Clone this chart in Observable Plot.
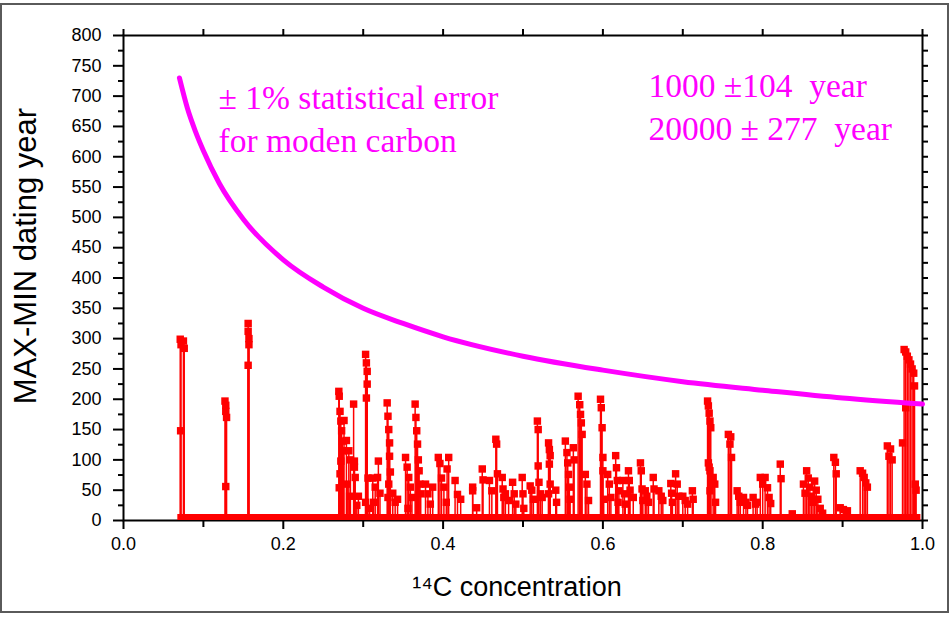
<!DOCTYPE html>
<html>
<head>
<meta charset="utf-8">
<script src="https://cdn.jsdelivr.net/npm/d3@7"></script>
<script src="https://cdn.jsdelivr.net/npm/@observablehq/plot@0.6"></script>
<style>
  body { margin: 0; background: #fff; }
  #wrap { position: relative; width: 951px; height: 620px; overflow: hidden; }
  #border { position: absolute; left: 0; top: 3px; width: 949px; height: 610px; box-sizing: border-box; border: 2px solid #5a5a5a; pointer-events: none; }
</style>
</head>
<body>
<div id="wrap"><div id="border"></div></div>
<script>
// ---- data ----
// 14C concentration of each measured sample (x) and its MAX-MIN dating year (y)
const conc = [
  0.071,0.072,0.0715,0.076,0.075,
  0.127,0.128,0.128,0.129,0.128,
  0.156,0.156,0.157,0.157,0.156,
  0.2695,0.270,0.271,0.272,0.273,0.274,0.275,0.272,0.271,0.270,
  0.276,0.279,0.282,0.284,0.280,0.283,
  0.288,0.289,0.289,0.290,0.294,0.292,
  0.303,0.304,0.305,0.305,0.304,0.306,0.303,0.308,
  0.312,0.315,0.313,0.319,0.318,0.321,
  0.330,0.331,0.332,0.333,0.333,0.334,0.332,0.331,
  0.337,0.340,0.343,
  0.353,0.355,0.357,0.359,0.361,0.356,
  0.365,0.366,0.367,0.368,0.369,0.370,0.371,0.372,
  0.378,0.381,0.384,0.387,
  0.394,0.396,0.398,0.401,0.404,0.407,0.405,
  0.415,0.418,0.422,
  0.437,0.437,0.442,
  0.449,0.450,
  0.458,0.461,
  0.466,0.467,0.468,
  0.474,0.475,0.476,
  0.478,0.482,
  0.487,0.489,0.491,
  0.499,0.500,0.501,
  0.509,0.511,0.513,
  0.518,0.519,0.519,0.520,
  0.522,0.524,
  0.532,0.533,0.534,0.533,0.534,0.532,
  0.541,0.542,
  0.553,0.555,0.556,0.557,0.558,0.559,
  0.563,0.564,
  0.569,0.571,0.572,0.573,0.574,
  0.578,0.580,0.582,
  0.597,0.598,0.599,0.600,0.600,0.601,
  0.606,0.608,0.610,
  0.616,0.617,0.618,0.620,0.619,
  0.625,0.627,0.628,
  0.632,0.633,0.634,
  0.638,
  0.647,0.648,0.649,0.650,
  0.653,0.655,0.657,
  0.663,0.664,
  0.670,0.673,0.675,
  0.685,0.686,0.687,
  0.691,0.693,0.695,
  0.700,0.703,0.706,
  0.712,0.713,
  0.731,0.732,0.733,0.734,0.735,0.732,0.733,0.734,0.735,0.734,
  0.738,0.740,0.741,
  0.757,0.760,0.759,0.761,
  0.768,0.770,0.772,
  0.776,0.779,0.781,
  0.788,0.791,0.793,
  0.797,0.800,0.803,0.806,0.808,0.810,
  0.822,0.823,
  0.837,
  0.851,0.853,0.855,0.857,0.859,0.861,0.863,0.865,0.867,0.869,0.872,0.875,
  0.889,0.891,0.892,
  0.897,0.901,0.906,
  0.922,0.925,0.927,0.929,0.931,
  0.956,0.958,0.960,0.962,
  0.975,
  0.977,0.979,0.981,0.983,0.979,
  0.985,0.987,0.989,0.990,
  0.991,0.992
];
const spread = [
  299,290,148,284,296,
  197,190,180,170,56,
  325,312,300,290,256,
  213,205,180,164,148,131,115,98,77,54,
  165,132,115,100,60,40,
  192,98,88,71,40,25,
  274,260,246,225,202,70,30,20,
  70,55,30,98,71,45,
  194,172,150,128,106,80,60,38,
  45,30,35,
  104,88,71,55,38,20,
  192,170,148,126,100,82,60,44,
  60,44,27,55,
  104,94,70,55,30,104,85,
  66,43,35,
  55,49,21,
  85,67,
  66,49,
  134,126,77,
  71,52,38,
  44,33,
  63,44,27,
  71,44,20,
  57,50,35,
  164,150,90,63,
  44,38,
  128,117,107,93,60,44,
  50,30,
  131,112,95,76,55,35,
  120,100,
  205,191,175,161,142,
  76,60,33,
  200,186,153,104,82,35,
  76,60,38,
  107,87,66,49,30,
  66,44,27,
  82,66,50,
  38,
  95,82,52,33,
  49,40,30,
  71,52,
  49,40,33,
  61,45,30,
  77,60,40,
  40,33,27,
  49,35,
  197,189,177,164,153,95,88,82,66,49,
  71,60,30,
  142,138,126,104,
  49,40,30,
  38,30,25,
  38,27,30,
  71,60,71,54,38,28,
  93,69,
  11,
  60,45,82,70,55,40,30,65,50,35,20,12,
  104,96,77,
  21,18,16,
  82,78,71,62,55,
  123,106,118,100,
  128,
  282,278,271,265,186,
  258,250,243,222,
  60,50
];
// samples with zero MAX-MIN spread cover this concentration range
const zeroRange = [0.068, 0.998];

// +/- 1% statistical error curve for modern carbon
const curveConc = [0.070, 0.080, 0.090, 0.100, 0.120, 0.150, 0.200, 0.250, 0.300, 0.350, 0.400, 0.500, 0.600, 0.700, 0.800, 0.900, 1.000];
const curveYear = [730, 680, 642, 610, 556, 497, 430, 385, 350, 325, 303, 271, 248, 229, 215, 202, 192];

const yTicks = d3.range(0, 801, 50);
const yMinor = d3.range(25, 800, 50);
const yRightTicks = d3.range(0, 801, 25);
const xTicks = [0, 0.2, 0.4, 0.6, 0.8, 1.0];
const xMinor = [0.1, 0.3, 0.5, 0.7, 0.9];
const xTopTicks = d3.range(0, 11).map(i => i / 10);

const yTitle = "MAX-MIN dating year";
const xTitle = "\u00B9\u2074C concentration";
const note1 = ["\u00B1 1% statistical error", "for moden carbon"];
const note2 = ["1000 \u00B1104  year", "20000 \u00B1 277  year"];

// ---- build ----
const points = conc.map((c, i) => ({c, v: spread[i]}));
const curve = curveConc.map((c, i) => ({c, v: curveYear[i]}));

const W = 951, H = 620, mL = 123, mR = 29, mT = 35, mB = 100;
const plotH = H - mT - mB, plotW = W - mL - mR;
const blank = () => "";
const serif = "'Liberation Serif', 'Times New Roman', serif";

const chart = Plot.plot({
  width: W,
  height: H,
  marginLeft: mL,
  marginRight: mR,
  marginTop: mT,
  marginBottom: mB,
  style: {fontFamily: "'Liberation Sans', Arial, sans-serif", background: "transparent", overflow: "visible"},
  x: {domain: [0, 1], label: null},
  y: {domain: [0, 800], label: null},
  marks: [
    Plot.frame({stroke: "#000", strokeWidth: 2}),
    Plot.ruleX(points, {x: "c", y1: 0, y2: "v", stroke: "#ff0000", strokeWidth: 1.5}),
    Plot.dot(points, {x: "c", y: "v", symbol: "square", r: 4.2, fill: "#ff0000", stroke: null}),
    // zero-spread samples along the base
    Plot.ruleY([0], {x1: zeroRange[0], x2: zeroRange[1], stroke: "#ff0000", strokeWidth: 6, dy: -3.5}),
    Plot.line(curve, {x: "c", y: "v", stroke: "#ff00ff", strokeWidth: 5, curve: "monotone-x"}),
    // left axis
    Plot.axisY({ticks: yTicks, tickSize: 10, tickPadding: 12, tickFormat: d => String(d), fontSize: 18, strokeWidth: 2, fill: "#000", label: null}),
    Plot.axisY({ticks: yMinor, tickSize: 5, tickFormat: blank, strokeWidth: 2, label: null}),
    // right axis (inward ticks)
    Plot.axisY({ticks: yRightTicks, tickSize: 6, tickFormat: blank, strokeWidth: 2, dx: plotW + 6, label: null}),
    // bottom axis
    Plot.axisX({ticks: xTicks, tickSize: 9, tickPadding: 8, tickFormat: d3.format(".1f"), fontSize: 18, strokeWidth: 2, fill: "#000", label: null}),
    Plot.axisX({ticks: xMinor, tickSize: 7, tickFormat: blank, strokeWidth: 2, label: null}),
    // top axis (inward ticks)
    Plot.axisX({anchor: "bottom", ticks: xTopTicks, tickSize: 6, tickFormat: blank, strokeWidth: 2, dy: -(plotH + 6), label: null}),
    // titles
    Plot.text([yTitle], {frameAnchor: "left", textAnchor: "middle", dx: -97, dy: -22, rotate: -90, fontSize: 31, fill: "#000"}),
    Plot.text([xTitle], {frameAnchor: "bottom", dx: -6, dy: 75, fontSize: 27, fill: "#000"}),
    // annotations
    Plot.text(note1, {x: 0.119, y: (d, i) => [697, 625][i], textAnchor: "start", fontFamily: serif, fontSize: 33.5, fill: "#ff00ff"}),
    Plot.text(note2, {x: 0.657, y: (d, i) => [717, 645][i], textAnchor: "start", fontFamily: serif, fontSize: 33.5, fill: "#ff00ff"})
  ]
});
document.getElementById("wrap").prepend(chart);
</script>
</body>
</html>
